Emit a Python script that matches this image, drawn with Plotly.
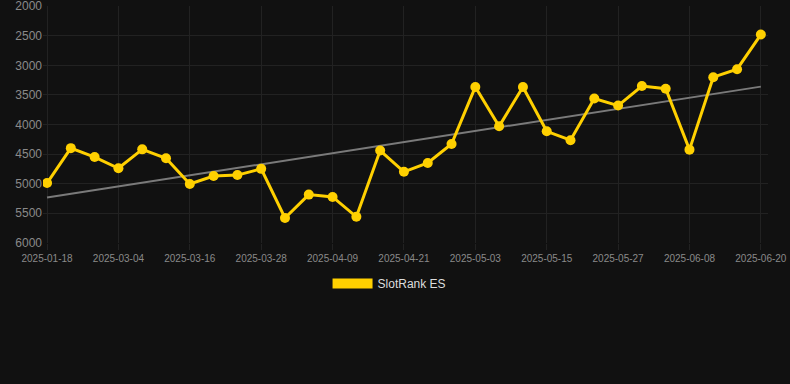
import numpy as np
import plotly.graph_objects as go

dates = ["2025-01-18", "2025-02-24", "2025-02-28", "2025-03-04", "2025-03-08", "2025-03-12",
         "2025-03-16", "2025-03-20", "2025-03-24", "2025-03-28", "2025-04-01", "2025-04-05",
         "2025-04-09", "2025-04-13", "2025-04-17", "2025-04-21", "2025-04-25", "2025-04-29",
         "2025-05-03", "2025-05-07", "2025-05-11", "2025-05-15", "2025-05-19", "2025-05-23",
         "2025-05-27", "2025-05-31", "2025-06-04", "2025-06-08", "2025-06-12", "2025-06-16",
         "2025-06-20"]
rank = [4990, 4400, 4550, 4740, 4420, 4570, 5005, 4870, 4855, 4750, 5580, 5185,
        5225, 5560, 4440, 4800, 4650, 4330, 3365, 4030, 3365, 4115, 4265, 3560,
        3680, 3350, 3395, 4425, 3200, 3065, 2480]
series_name = "SlotRank ES"
y_ticks = [2000, 2500, 3000, 3500, 4000, 4500, 5000, 5500, 6000]
tick_dates = dates[::3]

idx = np.arange(len(rank))
slope, intercept = np.polyfit(idx, rank, 1)
trend = slope * idx + intercept

YELLOW = "#FFD000"
BG = "#111111"
GRID = "#222222"
TXT = "#8a8a8a"

fig = go.Figure()
fig.add_trace(go.Scatter(
    x=dates, y=trend, mode="lines",
    line=dict(color="#7a7a7a", width=2),
    showlegend=False, hoverinfo="skip"))
fig.add_trace(go.Scatter(
    x=dates, y=rank, mode="lines+markers",
    line=dict(color=YELLOW, width=3),
    marker=dict(color=YELLOW, size=10),
    showlegend=False, name=series_name))
fig.add_trace(go.Scatter(
    x=[None], y=[None], mode="lines",
    line=dict(color=YELLOW, width=13),
    name=series_name, showlegend=True))

fig.update_layout(
    width=790, height=384,
    paper_bgcolor=BG, plot_bgcolor=BG,
    margin=dict(l=43, r=22, t=6, b=141, autoexpand=False),
    font=dict(family="Liberation Sans, Arial, sans-serif", color=TXT, size=11),
    legend=dict(orientation="h", x=0.478, xanchor="center", y=-0.11, yanchor="top",
                font=dict(color="#dddddd", size=12), itemwidth=40),
    xaxis=dict(type="category", range=[-0.17, 30.3], automargin=False,
               tickmode="array", tickvals=tick_dates, ticktext=tick_dates,
               showgrid=True, gridcolor=GRID, gridwidth=1,
               ticks="outside", ticklen=6, tickcolor=GRID,
               tickfont=dict(size=10, color=TXT),
               showline=False, zeroline=False),
    yaxis=dict(range=[6003, 1997], tickvals=y_ticks, automargin=False,
               showgrid=True, gridcolor=GRID, gridwidth=1,
               tickfont=dict(size=12, color=TXT), ticklabeloverflow="allow",
               ticks="", zeroline=False, showline=False),
)

fig.write_html("out.html", config={"displayModeBar": False},
               post_script="document.body.style.margin='0';document.body.style.background='#111111';")
